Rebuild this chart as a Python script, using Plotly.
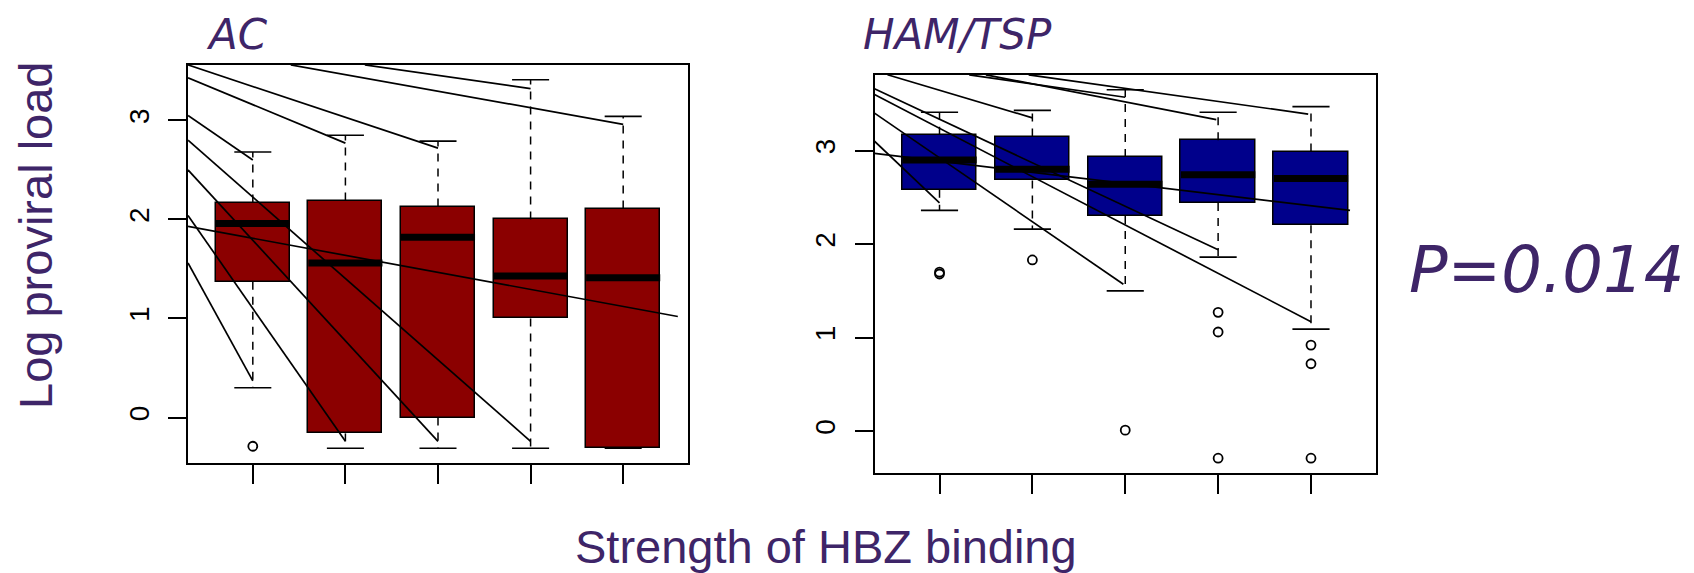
import plotly.graph_objects as go

# ---------------- data ----------------
GROUPS = [1, 2, 3, 4, 5]

# AC panel box statistics
AC_LOW = [0.30, -0.31, -0.31, -0.31, -0.31]
AC_Q1 = [1.37, -0.16, 0.00, 1.00, -0.31]
AC_MED = [1.96, 1.56, 1.82, 1.43, 1.41]
AC_Q3 = [2.17, 2.19, 2.13, 2.00, 2.11]
AC_HIGH = [2.68, 2.85, 2.79, 3.41, 3.04]
AC_OUT_X = [1]
AC_OUT_Y = [-0.29]

# HAM/TSP panel box statistics
HAM_LOW = [2.36, 2.16, 1.50, 1.86, 1.09]
HAM_Q1 = [2.58, 2.68, 2.30, 2.44, 2.20]
HAM_MED = [2.90, 2.80, 2.64, 2.74, 2.70]
HAM_Q3 = [3.17, 3.15, 2.93, 3.11, 2.99]
HAM_HIGH = [3.41, 3.43, 3.65, 3.41, 3.47]
HAM_OUT_X = [1, 1, 2, 3, 4, 4, 4, 5, 5, 5]
HAM_OUT_Y = [1.70, 1.68, 1.83, 0.01, 1.27, 1.06, -0.29, 0.92, 0.72, -0.29]

# straight overlay lines (start x, start y, end x, end y) in data units
AC_LINE_X0 = [0.30, 0.30, 1.41, 2.21, 0.30, 0.30, 0.30, 0.30, 0.30]
AC_LINE_Y0 = [3.56, 3.43, 3.56, 3.56, 3.05, 2.80, 2.50, 2.04, 1.56]
AC_LINE_X1 = [3.00, 2.00, 5.00, 4.00, 1.00, 4.00, 3.00, 2.00, 1.00]
AC_LINE_Y1 = [2.72, 2.77, 2.96, 3.32, 2.60, -0.24, -0.24, -0.24, 0.37]
AC_FIT_X = [0.30, 5.59]
AC_FIT_Y = [1.93, 1.02]

HAM_LINE_X0 = [0.44, 1.32, 1.50, 1.96, 0.30, 0.30, 0.30, 0.30]
HAM_LINE_Y0 = [3.81, 3.81, 3.81, 3.81, 3.66, 3.60, 3.40, 3.10]
HAM_LINE_X1 = [2.00, 3.00, 3.98, 4.97, 4.00, 5.00, 2.98, 1.00]
HAM_LINE_Y1 = [3.35, 3.57, 3.33, 3.39, 1.94, 1.17, 1.57, 2.44]
HAM_FIT_X = [0.30, 5.42]
HAM_FIT_Y = [2.97, 2.36]

Y_TICKS = [0, 1, 2, 3]
AC_YRANGE = [-0.459, 3.559]
HAM_YRANGE = [-0.448, 3.808]
X_RANGE = [0.3, 5.7]

TITLE_AC = "AC"
TITLE_HAM = "HAM/TSP"
P_TEXT = "P=0.014"
Y_TITLE = "Log proviral load"
X_TITLE = "Strength of HBZ binding"

PURPLE = "#3e2568"
AC_COLOR = "#8b0000"
HAM_COLOR = "#00008b"

fig = go.Figure()


def add_panel(xa, ya, low, q1, med, q3, high, ox, oy, lx0, ly0, lx1, ly1, fx, fy, color):
    bw = 0.8
    cap = 0.2
    # whiskers (dashed)
    wx, wy = [], []
    for g, a, b, c, d in zip(GROUPS, low, q1, q3, high):
        wx += [g, g, None, g, g, None]
        wy += [c, d, None, b, a, None]
    fig.add_trace(go.Scatter(x=wx, y=wy, mode="lines", xaxis=xa, yaxis=ya,
                             line=dict(color="black", width=1.5, dash="8px,7px"),
                             hoverinfo="skip", showlegend=False))
    # caps
    cx, cy = [], []
    for g, a, d in zip(GROUPS, low, high):
        cx += [g - cap, g + cap, None, g - cap, g + cap, None]
        cy += [d, d, None, a, a, None]
    fig.add_trace(go.Scatter(x=cx, y=cy, mode="lines", xaxis=xa, yaxis=ya,
                             line=dict(color="black", width=1.6),
                             hoverinfo="skip", showlegend=False))
    # boxes
    fig.add_trace(go.Bar(x=GROUPS, base=q1, y=[c - b for b, c in zip(q1, q3)],
                         width=bw, xaxis=xa, yaxis=ya,
                         marker=dict(color=color, line=dict(color="black", width=1.5)),
                         showlegend=False))
    # medians
    mx, my = [], []
    for g, m in zip(GROUPS, med):
        mx += [g - bw / 2, g + bw / 2, None]
        my += [m, m, None]
    fig.add_trace(go.Scatter(x=mx, y=my, mode="lines", xaxis=xa, yaxis=ya,
                             line=dict(color="black", width=7),
                             hoverinfo="skip", showlegend=False))
    # outliers
    fig.add_trace(go.Scatter(x=ox, y=oy, mode="markers", xaxis=xa, yaxis=ya,
                             marker=dict(symbol="circle-open", size=9, color="black",
                                         line=dict(width=1.8)),
                             cliponaxis=False, showlegend=False))
    # overlay lines
    ox_, oy_ = [], []
    for a, b, c, d in zip(lx0, ly0, lx1, ly1):
        ox_ += [a, c, None]
        oy_ += [b, d, None]
    ox_ += fx
    oy_ += fy
    fig.add_trace(go.Scatter(x=ox_, y=oy_, mode="lines", xaxis=xa, yaxis=ya,
                             line=dict(color="black", width=1.7),
                             hoverinfo="skip", showlegend=False))


add_panel("x", "y", AC_LOW, AC_Q1, AC_MED, AC_Q3, AC_HIGH, AC_OUT_X, AC_OUT_Y,
          AC_LINE_X0, AC_LINE_Y0, AC_LINE_X1, AC_LINE_Y1, AC_FIT_X, AC_FIT_Y, AC_COLOR)
add_panel("x2", "y2", HAM_LOW, HAM_Q1, HAM_MED, HAM_Q3, HAM_HIGH, HAM_OUT_X, HAM_OUT_Y,
          HAM_LINE_X0, HAM_LINE_Y0, HAM_LINE_X1, HAM_LINE_Y1, HAM_FIT_X, HAM_FIT_Y, HAM_COLOR)

# the page body adds an 8px margin; the figure is sized to fill the rest of the window
OFF = 8
W, H = 1694 - OFF, 573 - OFF


def px(v):
    return (v - OFF) / W


def py(v):
    return 1 - (v - OFF) / H


xcommon = dict(range=X_RANGE, tickvals=GROUPS, showticklabels=False, ticks="outside",
               ticklen=19, tickwidth=1.5, tickcolor="black", showline=True, mirror=True,
               linecolor="black", linewidth=2, showgrid=False, zeroline=False, fixedrange=True)
ycommon = dict(tickvals=Y_TICKS, ticks="outside", ticklen=18, tickwidth=1.5,
               tickcolor="black", tickangle=-90, showline=True, mirror=True,
               linecolor="black", linewidth=2, showgrid=False, zeroline=False,
               tickfont=dict(family="Liberation Sans", size=28, color="black"),
               ticklabelstandoff=8, fixedrange=True)

fig.update_layout(
    width=W, height=H,
    margin=dict(l=0, r=0, t=0, b=0),
    paper_bgcolor="white", plot_bgcolor="white",
    barmode="overlay", bargap=0,
    xaxis=dict(domain=[px(188), px(688)], anchor="y", **xcommon),
    yaxis=dict(domain=[py(463), py(65)], anchor="x", range=AC_YRANGE, **ycommon),
    xaxis2=dict(domain=[px(874.5), px(1376)], anchor="y2", **xcommon),
    yaxis2=dict(domain=[py(473), py(75)], anchor="x2", range=HAM_YRANGE, **ycommon),
    annotations=[
        dict(text=TITLE_AC, xref="paper", yref="paper", x=px(237), y=py(8),
             xanchor="center", yanchor="top", showarrow=False,
             font=dict(family="DejaVu Sans", size=42, color=PURPLE, style="italic")),
        dict(text=TITLE_HAM, xref="paper", yref="paper", x=px(957), y=py(8),
             xanchor="center", yanchor="top", showarrow=False,
             font=dict(family="DejaVu Sans", size=42, color=PURPLE, style="italic")),
        dict(text=P_TEXT, xref="paper", yref="paper", x=px(1546), y=py(270),
             xanchor="center", yanchor="middle", showarrow=False,
             font=dict(family="DejaVu Sans", size=64, color=PURPLE, style="italic")),
        dict(text=Y_TITLE, xref="paper", yref="paper", x=px(35), y=py(235),
             xanchor="center", yanchor="middle", showarrow=False, textangle=-90,
             font=dict(family="Liberation Sans", size=47, color=PURPLE)),
        dict(text=X_TITLE, xref="paper", yref="paper", x=px(826), y=py(546),
             xanchor="center", yanchor="middle", showarrow=False,
             font=dict(family="Liberation Sans", size=47, color=PURPLE)),
    ],
)

fig.write_html("out.html")
